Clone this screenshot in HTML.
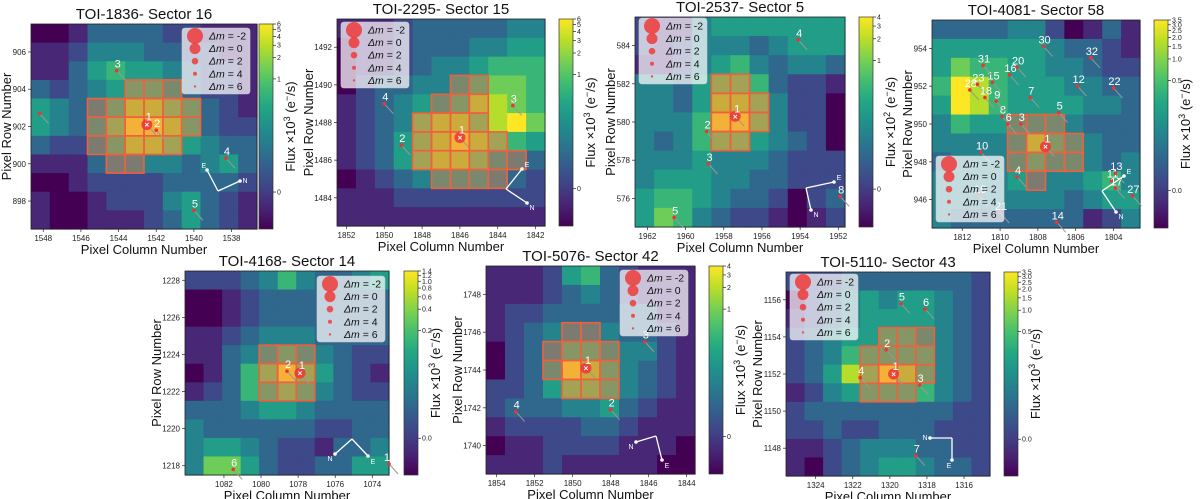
<!DOCTYPE html>
<html><head><meta charset="utf-8">
<style>
html,body{margin:0;padding:0;background:#fff;}
svg{display:block;font-family:"Liberation Sans","DejaVu Sans",sans-serif;}
</style></head>
<body>
<svg id="fig" width="1200" height="499" viewBox="0 0 1200 499" xmlns="http://www.w3.org/2000/svg"></svg>
<script>
// ---- data arrays (flux levels 0-9 per pixel, top row first) ----
const p1Grid=["001333322111","112444332211","113565543221","323456653221","543468876321","543579986322","322468875433","111344443453","001222233332","100122245321","100111235321"];
const p1Aperture=["","","","000001110000","000111111000","000111111000","000111110000","000011000000","","",""];
const p1CbarTicks=[0,1,2,3,4,5,6];
const p1Stars=[[1542.5,902.1,"1"],[1542,901.8,"2"],[1544.1,905,"3"],[1538.3,900.3,"4"],[1540,897.5,"5"],[1548.2,902.7,""]];

const p2Grid=["11123333344","01123334455","01123445666","02334456776","12345568876","12347887897","12357898765","12357887543","01234555432","11122222222","11111111111"];
const p2Aperture=["","","","00000011000","00000111000","00001111000","00001111100","00001111110","00000111100","",""];
const p2CbarTicks=[0,1,2,3,4,5,6];
const p2Stars=[[1846,1487.2,"1"],[1849.1,1486.8,"2"],[1843.2,1488.9,"3"],[1850,1489,"4"]];

const p3Grid=["21145555555","21244434555","11245643443","44357763221","44358874220","44469974220","43467754320","44454443222","45554433222","56654332023","57643221012"];
const p3Aperture=["","","","00001100000","00001110000","00001110000","00001100000","","","",""];
const p3CbarTicks=[0,1,2,3,4];
const p3Stars=[[1957.4,580.3,"1"],[1958.9,579.5,"2"],[1958.8,577.8,"3"],[1954.1,584.3,"4"],[1960.6,575,"5"],[1951.9,576.1,"8"]];

const p4Grid=["33334420131","55555543321","57665544322","69865554433","59865555443","46555554333","44445865433","34445655434","44445444564","44444443455","43333333124"];
const p4Aperture=["","","","","","00001110000","00001111000","00001111000","00000100000","",""];
const p4CbarTicks=[0.0,0.5,1.0,1.5,2.0,2.5,3.0,3.5];
const p4Stars=[[1807.6,948.8,"1"],[1808.9,950,"3"],[1809.1,947.2,"4"],[1806.9,950.6,"5"],[1805.9,952,"12"],[1811.6,951.8,"28"],[1811.2,952.1,"23"],[1804.1,947,"11"],[1803.9,946.6,"17"],[1803.9,947.4,"13"],[1804,951.9,"22"],[1810.4,952.2,"15"],[1809.9,950.4,"8"],[1810.2,951.2,"9"],[1810.8,951.4,"18"],[1809.5,952.6,"16"],[1809.1,953,"20"],[1807.7,954.1,"30"],[1805.2,953.5,"32"],[1810.9,953.1,"31"],[1808.4,951.4,"7"],[1809.6,950,"6"],[1811,948.5,"10"],[1807,944.8,"14"],[1803,946.2,"27"],[1811.1,946.2,"19"],[1810,945.3,"21"]];

const p5Grid=["22234643345","00123333333","00123333333","11234443333","11345654322","01367975321","12366764322","33345543333","43333332233","45543221334","47753223355"];
const p5Aperture=["","","","","00001110000","00001110000","00001110000","","","",""];
const p5CbarTicks=[0.0,0.2,0.4,0.6,0.8,1.0,1.2,1.4];
const p5Stars=[[1077.9,1223,"1"],[1078.6,1223.1,"2"],[1081.5,1217.8,"6"],[1073.1,1218.1,"12"]];

const p6Grid=["11125632111","11123432111","12233333311","12344443321","02346654421","02359864321","22357764321","23334453211","12222332111","01122221110","11121111100"];
const p6Aperture=["","","","00001100000","00011110000","00011110000","00001110000","","","",""];
const p6CbarTicks=[0,1,2,3,4];
const p6Stars=[[1849.3,1744.1,"1"],[1848,1741.9,"2"],[1846.2,1745.5,"3"],[1853,1741.8,"4"]];

const p7Grid=["22233333332","02345455432","12345555432","23455665432","23466666432","23587986432","12456666432","23333333322","22322333222","11234443322","10234554332"];
const p7Aperture=["","","","00000111000","00001111000","00001111000","00001110000","","","",""];
const p7CbarTicks=[0.0,0.5,1.0,1.5,2.0,2.5,3.0,3.5];
const p7Stars=[[1319.8,1152,"1"],[1320.2,1153.3,"2"],[1318.4,1151.4,"3"],[1321.6,1151.8,"4"],[1319.4,1155.8,"5"],[1318.1,1155.5,"6"],[1318.6,1147.6,"7"]];

const legendMags=[-2,0,2,4,6];

// ---- layout (pixel geometry) ----
const panels=[
 {title:"TOI-1836- Sector 16",grid:p1Grid,ap:p1Aperture,cb:p1CbarTicks,stars:p1Stars,x:31,y:24,w:226,h:205,c0:1548.65,r0:907.5,xt:[1548,1546,1544,1542,1540,1538],yt:[906,904,902,900,898],cbx:259,cbl:"Flux ×10",cexp:"3",leg:[182,28],comp:[218,191,240,181,207,170]},
 {title:"TOI-2295- Sector 15",grid:p2Grid,ap:p2Aperture,cb:p2CbarTicks,stars:p2Stars,x:337,y:19,w:208,h:207,c0:1852.5,r0:1493.5,xt:[1852,1850,1848,1846,1844,1842],yt:[1492,1490,1488,1486,1484],cbx:559,cbl:"Flux ×10",cexp:"3",leg:[341,22],comp:[506,189,527,203,522,169]},
 {title:"TOI-2537- Sector 5",grid:p3Grid,ap:p3Aperture,cb:p3CbarTicks,stars:p3Stars,x:635,y:17,w:210,h:210,c0:1962.65,r0:585.5,xt:[1962,1960,1958,1956,1954,1952],yt:[584,582,580,578,576],cbx:859,cbl:"Flux ×10",cexp:"2",leg:[639,18],comp:[806,188,811,210,834,182]},
 {title:"TOI-4081- Sector 58",grid:p4Grid,ap:p4Aperture,cb:p4CbarTicks,stars:p4Stars,x:932,y:20,w:208,h:208,c0:1813.6,r0:955.5,xt:[1812,1810,1808,1806,1804],yt:[954,952,950,948,946],cbx:1154,cbl:"Flux ×10",cexp:"3",leg:[936,156],comp:[1102,191,1116,212,1124,176]},
 {title:"TOI-4168- Sector 14",grid:p5Grid,ap:p5Aperture,cb:p5CbarTicks,stars:p5Stars,x:185,y:271,w:204,h:204,c0:1084.1,r0:1228.5,xt:[1082,1080,1078,1076,1074],yt:[1228,1226,1224,1222,1220,1218],cbx:404,cbl:"Flux ×10",cexp:"3",leg:[317,276],comp:[352,439,335,454,368,456]},
 {title:"TOI-5076- Sector 42",grid:p6Grid,ap:p6Aperture,cb:p6CbarTicks,stars:p6Stars,x:486,y:266,w:209,h:208,c0:1854.56,r0:1749.5,xt:[1854,1852,1850,1848,1846,1844],yt:[1748,1746,1744,1742,1740],cbx:709,cbl:"Flux ×10",cexp:"3",leg:[620,270],comp:[656,436,636,442,662,460]},
 {title:"TOI-5110- Sector 43",grid:p7Grid,ap:p7Aperture,cb:p7CbarTicks,stars:p7Stars,x:786,y:272,w:204,h:204,c0:1325.6,r0:1157.5,xt:[1324,1322,1320,1318,1316],yt:[1156,1154,1152,1150,1148],cbx:1004,cbl:"Flux ×10",cexp:"3",leg:[790,274],comp:[952,438,930,438,952,460]}
];

const VIR=[[68,1,84],[72,35,116],[64,67,135],[52,94,141],[41,120,142],[32,144,140],[34,167,132],[68,190,112],[121,209,81],[189,222,38],[253,231,37]];
function viridis(t){t=Math.max(0,Math.min(1,t));const f=t*(VIR.length-1),i=Math.min(VIR.length-2,Math.floor(f)),u=f-i;const a=VIR[i],b=VIR[i+1];return `rgb(${Math.round(a[0]+(b[0]-a[0])*u)},${Math.round(a[1]+(b[1]-a[1])*u)},${Math.round(a[2]+(b[2]-a[2])*u)})`;}

const svg=document.getElementById('fig');
const NS="http://www.w3.org/2000/svg";
function mk(tag,attrs,parent,txt){const e=document.createElementNS(NS,tag);for(const k in attrs)e.setAttribute(k,attrs[k]);if(txt!==undefined)e.textContent=txt;(parent||svg).appendChild(e);return e;}

const defs=mk('defs',{});
const lg=mk('linearGradient',{id:'vir',x1:0,y1:1,x2:0,y2:0},defs);
VIR.forEach((c,i)=>mk('stop',{offset:(i/(VIR.length-1)),'stop-color':`rgb(${c})`},lg));

panels.forEach((p,pi)=>{
  const g=mk('g',{});
  
  
  const rows=p.grid.length, cols=p.grid[0].length;
  const cw=p.w/cols, ch=p.h/rows;
  const xs=v=>p.x+(p.c0-v)*cw;
  const ys=v=>p.y+(p.r0-v)*ch;
  const t=mk('text',{x:p.x+p.w/2,y:p.y-5,'text-anchor':'middle','font-size':15,fill:'#111'},g,p.title);
  
  
  const hm=mk('g',{},g);
  
  
  p.grid.forEach((row,r)=>{for(let c=0;c<cols;c++){
    const v=+row[c];
    const cell=mk('rect',{x:p.x+c*cw,y:p.y+r*ch,width:cw+0.6,height:ch+0.6,fill:viridis(v/9)},hm);
    
    
  }});
  const apg=mk('g',{},g);
  
  
  p.ap.forEach((row,r)=>{for(let c=0;c<row.length;c++){if(row[c]==='1'){
    const a=mk('rect',{x:p.x+c*cw,y:p.y+r*ch,width:cw,height:ch,fill:'rgb(230,110,80)','fill-opacity':0.45,stroke:'#f0603c','stroke-width':1.6},apg);
    
    
  }}});
  mk('rect',{x:p.x,y:p.y,width:p.w,height:p.h,fill:'none',stroke:'#222','stroke-width':0.8},g);
  p.stars.forEach(s=>{
    const sx=xs(s[0]), sy=ys(s[1]);
    mk('line',{x1:sx,y1:sy,x2:sx+9,y2:sy+10,stroke:'#999','stroke-width':1},g);
    if(s[2]==='1'){
      const st=mk('circle',{cx:sx,cy:sy,r:5.5,fill:'#ee3a3a','fill-opacity':0.9},g);
      
      
      mk('text',{x:sx,y:sy+3,'text-anchor':'middle','font-size':8,fill:'#fff','font-weight':'bold'},g,'×');
      mk('text',{x:sx+2,y:sy-4,'text-anchor':'middle','font-size':11,fill:'#fff'},g,'1');
    } else {
      const st=mk('circle',{cx:sx,cy:sy,r:1.8,fill:'#e33'},g);
      
      
      if(s[2]) mk('text',{x:sx+1,y:sy-3,'text-anchor':'middle','font-size':11,fill:'#fff'},g,s[2]);
    }
  });
  const cp=p.comp;
  const cg=mk('g',{},g);
  
  
  mk('line',{x1:cp[0],y1:cp[1],x2:cp[2],y2:cp[3],stroke:'#fff','stroke-width':1.3},cg);
  mk('line',{x1:cp[0],y1:cp[1],x2:cp[4],y2:cp[5],stroke:'#fff','stroke-width':1.3},cg);
  mk('circle',{cx:cp[2],cy:cp[3],r:1.8,fill:'#fff'},cg);
  mk('circle',{cx:cp[4],cy:cp[5],r:1.8,fill:'#fff'},cg);
  mk('text',{x:cp[2]+(cp[2]>cp[0]?5:-5),y:cp[3]+(cp[3]>cp[1]?7:2),'text-anchor':'middle','font-size':7,fill:'#fff'},cg,'N');
  mk('text',{x:cp[4]+(cp[4]>cp[0]?5:-3),y:cp[5]+(cp[5]>cp[1]?8:-2),'text-anchor':'middle','font-size':7,fill:'#fff'},cg,'E');
  const L=mk('g',{},g);
  
  
  mk('rect',{x:p.leg[0],y:p.leg[1],width:68,height:66,rx:3,fill:'#fff','fill-opacity':0.72,stroke:'#ccc','stroke-width':0.6},L);
  const radii=[8,5.5,3.3,2,1.2];
  legendMags.forEach((m,i)=>{
    const ly=p.leg[1]+8+i*12.6;
    const e=mk('g',{},L);
    
    
    mk('circle',{cx:p.leg[0]+13,cy:ly,r:radii[i],fill:'#ee3a3a','fill-opacity':0.85},e);
    const tx=mk('text',{x:p.leg[0]+27,y:ly+3.5,'font-size':10.5,fill:'#111'},e);
    mk('tspan',{'font-style':'italic'},tx,'Δm');
    mk('tspan',{},tx,' = '+(m<0?' ':'  ')+m);
  });
  p.xt.forEach(v=>{const x=xs(v);
    mk('line',{x1:x,y1:p.y+p.h,x2:x,y2:p.y+p.h+3,stroke:'#222','stroke-width':0.7},g);
    const tl=mk('text',{x:x,y:p.y+p.h+12,'text-anchor':'middle','font-size':8,fill:'#222'},g,v);
    
    
  });
  p.yt.forEach(v=>{const y=ys(v);
    mk('line',{x1:p.x-3,y1:y,x2:p.x,y2:y,stroke:'#222','stroke-width':0.7},g);
    const tl=mk('text',{x:p.x-5,y:y+3,'text-anchor':'end','font-size':8,fill:'#222'},g,v);
    
    
  });
  const xl=mk('text',{x:p.x+p.w/2,y:p.y+p.h+25,'text-anchor':'middle','font-size':13,fill:'#111'},g,'Pixel Column Number');
  
  
  const ylx=p.x-8-(String(p.yt[0]).length*4);
  const yl=mk('text',{x:ylx,y:p.y+p.h/2,'text-anchor':'middle','font-size':13,fill:'#111',transform:`rotate(-90 ${ylx} ${p.y+p.h/2})`},g,'Pixel Row Number');
  
  
  const cb=mk('g',{},g);
  
  
  const cbw=14;
  mk('rect',{x:p.cbx,y:p.y,width:cbw,height:p.h,fill:'url(#vir)',stroke:'#333','stroke-width':0.7},cb);
  const vmax=p.cb[p.cb.length-1], a=vmax/120;
  const sf=v=>Math.asinh(v/a);
  const smax=sf(vmax), smin=-0.22*smax;
  const cy=v=>p.y+p.h*(1-(sf(v)-smin)/(smax-smin));
  p.cb.forEach((v,i)=>{const y=cy(v);
    mk('line',{x1:p.cbx+cbw,y1:y,x2:p.cbx+cbw+3,y2:y,stroke:'#222','stroke-width':0.7},cb);
    const lab=(vmax<5?v.toFixed(1):String(v));
    const tl=mk('text',{x:p.cbx+cbw+4,y:y+2.5,'font-size':7,fill:'#222'},cb,(p.cb===p3CbarTicks||p.cb===p6CbarTicks)?String(v):lab);
    
    
  });
  const clx=p.cbx+cbw+22, cly=p.y+p.h/2;
  const cl=mk('text',{x:clx,y:cly,'text-anchor':'middle','font-size':13,fill:'#111',transform:`rotate(-90 ${clx} ${cly})`},cb);
  
  
  mk('tspan',{},cl,p.cbl);
  mk('tspan',{'font-size':9,dy:-5},cl,p.cexp);
  mk('tspan',{dy:5},cl,' (e');
  mk('tspan',{'font-size':9,dy:-5},cl,'−');
  mk('tspan',{dy:5},cl,'/s)');
});
</script>
</body></html>
